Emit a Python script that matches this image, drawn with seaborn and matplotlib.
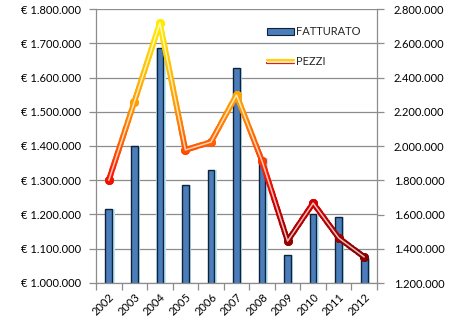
import numpy as np
import pandas as pd
import matplotlib
matplotlib.use('Agg')
import matplotlib.pyplot as plt
import seaborn as sns
from matplotlib.colors import LinearSegmentedColormap
from matplotlib.transforms import Bbox, TransformedBbox
from matplotlib.lines import Line2D
from matplotlib.patches import Patch
from matplotlib.ticker import FixedLocator, FuncFormatter
import matplotlib.patheffects as pe

# ---- data ----
years = ['2002', '2003', '2004', '2005', '2006', '2007', '2008', '2009', '2010', '2011', '2012']
fatturato = [1215000, 1400000, 1686000, 1285000, 1330000, 1628000, 1366000, 1082000, 1200000, 1194000, 1073000]
pezzi = [1800000, 2257000, 2718000, 1977000, 2023000, 2298000, 1912000, 1445000, 1667000, 1463000, 1352000]
left_ticks = [1000000, 1100000, 1200000, 1300000, 1400000, 1500000, 1600000, 1700000, 1800000]
right_ticks = [1200000, 1400000, 1600000, 1800000, 2000000, 2200000, 2400000, 2600000, 2800000]
series_labels = ['FATTURATO', 'PEZZI']

sns.set_theme(style='white')
plt.rcParams['font.family'] = ['Lato', 'DejaVu Sans']

FS = 8.0
GRID = '#8C8C8C'

fig = plt.figure(figsize=(4.6, 3.22), dpi=100)
ax = fig.add_axes([96 / 460, 1 - 283 / 322, (377 - 96) / 460, (283 - 9) / 322])

df = pd.DataFrame({'anno': years, 'fatturato': fatturato, 'pezzi': pezzi})

# glow behind the bars
sns.barplot(data=df, x='anno', y='fatturato', ax=ax, color='#BDEAF8', width=0.36,
            saturation=1, edgecolor='none')
for p in ax.patches:
    p.set_x(p.get_x() + 0.045)
# main bars
sns.barplot(data=df, x='anno', y='fatturato', ax=ax, color='#4A7DBA', width=0.26,
            saturation=1, edgecolor='#10223A', linewidth=1.0)

ax.set_xlim(-0.5, len(years) - 0.5)
ax.set_ylim(left_ticks[0], left_ticks[-1])
ax.yaxis.set_major_locator(FixedLocator(left_ticks))
ax.yaxis.set_major_formatter(FuncFormatter(lambda v, p: '€ ' + f'{v:,.0f}'.replace(',', '.')))
ax.set_axisbelow(True)
ax.yaxis.grid(True, color=GRID, lw=0.9)
ax.set_xlabel('')
ax.set_ylabel('')

ax.set_xticks(range(len(years)))
ax.set_xticklabels(years, rotation=45, ha='right', va='top', rotation_mode='anchor')
ax.xaxis.set_minor_locator(FixedLocator(np.arange(len(years) + 1) - 0.5))
ax.tick_params(axis='x', which='major', length=0, pad=6, labelsize=FS, labelcolor='black')
ax.tick_params(axis='x', which='minor', length=5, width=0.9, color=GRID, bottom=True)
ax.tick_params(axis='y', which='major', length=5, width=0.9, color=GRID, left=True,
               pad=6, labelsize=FS, labelcolor='black')
for s in ['top', 'right']:
    ax.spines[s].set_visible(False)
for s in ['left', 'bottom']:
    ax.spines[s].set_color(GRID)
    ax.spines[s].set_linewidth(0.9)

# ---- secondary axis: PEZZI ----
ax2 = ax.twinx()
sns.lineplot(x=np.arange(len(years)), y=pezzi, ax=ax2, color='#FF6600', marker='o')
ax2.set_ylim(right_ticks[0], right_ticks[-1])
ax2.set_xlim(-0.5, len(years) - 0.5)
ax2.yaxis.set_major_locator(FixedLocator(right_ticks))
ax2.yaxis.set_major_formatter(FuncFormatter(lambda v, p: f'{v:,.0f}'.replace(',', '.')))
ax2.tick_params(axis='y', which='major', length=5, width=0.9, color=GRID, right=True,
                pad=7, labelsize=FS, labelcolor='black')
ax2.set_ylabel('')
for s in ['top', 'left', 'bottom']:
    ax2.spines[s].set_visible(False)
ax2.spines['right'].set_color(GRID)
ax2.spines['right'].set_linewidth(0.9)
ax2.grid(False)

base = ax2.lines[0]
xd, yd = base.get_xdata(), base.get_ydata()
base.set_visible(False)

cmap = LinearSegmentedColormap.from_list('grad', [
    (0.00, '#700000'), (0.15, '#980000'), (0.30, '#D40000'), (0.40, '#FF1800'),
    (0.50, '#FF5A00'), (0.65, '#FF9A00'), (0.80, '#FFC400'), (0.93, '#FFE800'),
    (1.00, '#FFF200')])

nb = 120
for i in range(nb):
    c = cmap((i + 0.5) / nb)
    ln = Line2D(xd, yd, color=c, lw=4.0, marker='o', ms=5.4, mfc=c, mec=c, zorder=3)
    ax2.add_line(ln)
    ln.set_clip_box(TransformedBbox(Bbox([[0, i / nb], [1, (i + 1.8) / nb]]), ax2.transAxes))

core = Line2D(xd, yd, color='white', alpha=0.75, lw=1.1, zorder=4)
ax2.add_line(core)

# ---- legend ----
for a in (ax, ax2):
    if a.get_legend() is not None:
        a.get_legend().remove()
h1 = Patch(facecolor='#4A7DBA', edgecolor='#10223A', linewidth=0.8)
h2 = Line2D([], [], color='#FFE6B0', lw=0.9, path_effects=[
    pe.Stroke(linewidth=1.6, foreground='#FFD200', offset=(0, 1.0)),
    pe.Stroke(linewidth=1.6, foreground='#E00000', offset=(0, -1.0)),
    pe.Normal()])
ax2.legend([h1, h2], series_labels, loc='upper left',
           bbox_to_anchor=(267 / 460, 1 - 26 / 322), bbox_transform=fig.transFigure,
           frameon=False, borderpad=0, borderaxespad=0, handlelength=2.4,
           handleheight=0.6, handletextpad=0.25, labelspacing=1.75, fontsize=FS)

fig.savefig('out.png', dpi=100)
